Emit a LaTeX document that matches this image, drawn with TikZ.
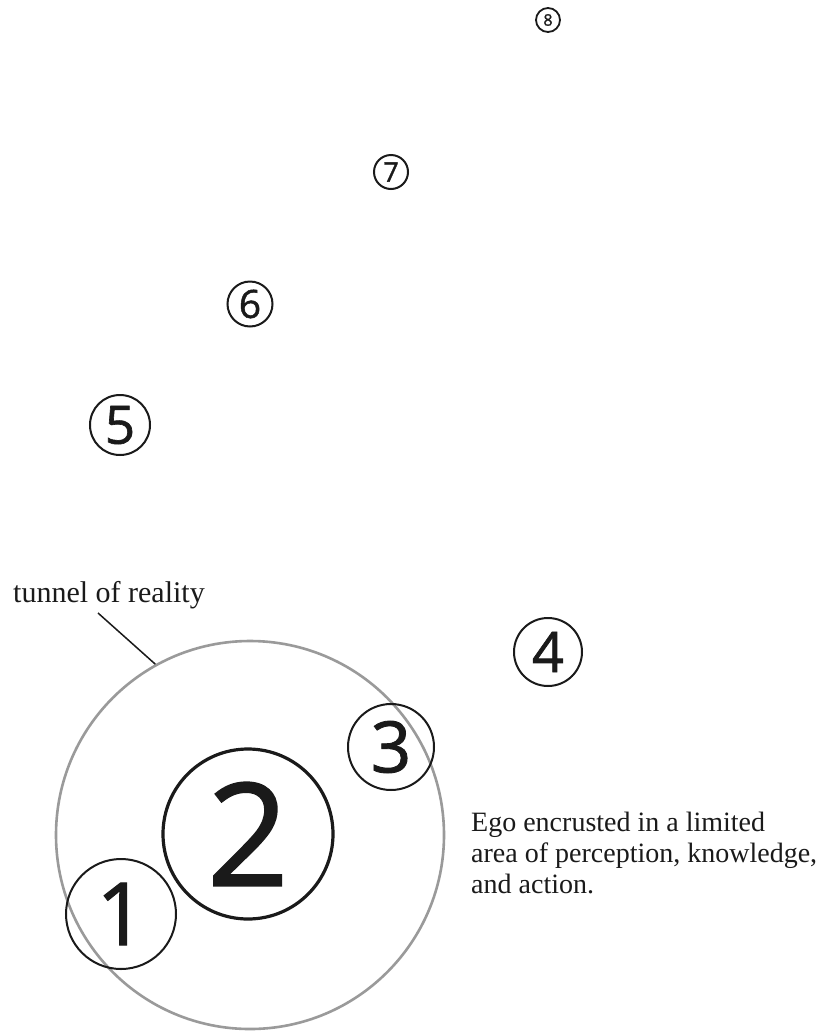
\documentclass[tikz,border=0pt]{standalone}
\usepackage{fontspec}
\setmainfont{Liberation Serif}
\newfontfamily\digitfont[FakeBold=1.2]{Open Sans}
\definecolor{tunnelgray}{HTML}{9A9A9A}
\definecolor{inkblack}{HTML}{1A1A1A}
\tikzset{
  numcirc/.style={circle, draw=inkblack, line width=2pt, inner sep=0pt, text=inkblack},
  tunnel/.style={circle, draw=tunnelgray, line width=2.6pt, inner sep=0pt},
  labeltext/.style={text=inkblack, inner sep=0pt, font=\fontsize{28}{31}\selectfont},
}
\newcommand{\dsz}[1]{\digitfont\fontsize{#1}{#1}\selectfont}
\begin{document}
\begin{tikzpicture}[x=1pt,y=-1pt]
\useasboundingbox (0,0) rectangle (827,1034);
\fill[white] (0,0) rectangle (827,1034);
\node[tunnel, minimum size=388pt] (tun) at (250,835) {};
\node[numcirc, minimum size=110pt] (c1) at (121,914) {\dsz{87}1};
\node[numcirc, line width=3.2pt, minimum size=170pt] (c2) at (248,834) {\dsz{143}2};
\node[numcirc, minimum size=86pt] (c3) at (391,747) {\dsz{71}3};
\node[numcirc, minimum size=68pt] (c4) at (548,652) {\dsz{56}4};
\node[numcirc, minimum size=60pt] (c5) at (120,425) {\dsz{53}5};
\node[numcirc, minimum size=45pt] (c6) at (250,304) {\dsz{39}6};
\node[numcirc, minimum size=34pt] (c7) at (391,172) {\dsz{27}7};
\node[numcirc, line width=1.8pt, minimum size=24pt] (c8) at (548,20) {\dsz{16}8};
\node[labeltext, anchor=base west, font=\fontsize{30}{32}\selectfont] (tlab) at (13,602) {tunnel of reality};
\coordinate (tstart) at (98,613);
\draw[inkblack, line width=1.5pt] (tstart) -- (tun.119);
\node[labeltext, anchor=north west, align=left] (ego) at (471,812)
  {Ego encrusted in a limited\\area of perception, knowledge,\\and action.};
\end{tikzpicture}
\end{document}
